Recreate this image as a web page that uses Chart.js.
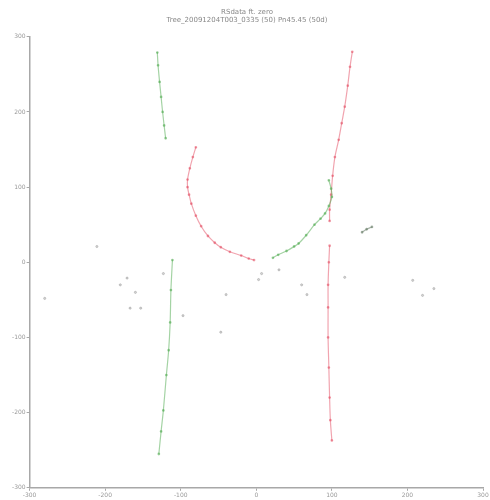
<!DOCTYPE html>
<html>
<head>
<meta charset="utf-8">
<script src="https://cdn.jsdelivr.net/npm/chart.js@4/dist/chart.umd.min.js"></script>
<style>
  html, body { margin: 0; padding: 0; background: #fff; }
  #wrap { width: 490px; height: 500px; }
</style>
</head>
<body>
<div id="wrap"><canvas id="chart"></canvas></div>
<script>
// Axis ticks
const X_TICKS = [-300, -200, -100, 0, 100, 200, 300];
const Y_TICKS = [-300, -200, -100, 0, 100, 200, 300];

// Green branch, upper left
const greenUpperX = [-131, -130, -128, -126, -124, -122, -120];
const greenUpperY = [279, 262, 240, 220, 200, 182, 165];

// Red arc, left side of the bowl
const redArcX = [-80, -84, -88, -91, -91, -89, -86, -80, -73, -64, -55, -47, -35, -20, -10, -3];
const redArcY = [153, 140, 125, 110, 100, 90, 78, 62, 48, 35, 26, 20, 14, 9, 5, 3];

// Green arc, right side of the bowl
const greenArcX = [22, 29, 40, 50, 56, 66, 77, 85, 91, 96, 100, 99, 96];
const greenArcY = [6, 10, 15, 21, 25, 36, 50, 58, 65, 75, 87, 98, 109];

// Red branch, upper right
const redUpperX = [127, 124, 121, 117, 113, 109, 104, 101, 99, 97, 97];
const redUpperY = [280, 260, 235, 207, 185, 163, 140, 115, 90, 70, 55];

// Red branch, lower right
const redLowerX = [97, 96, 95, 95, 95, 96, 97, 98, 100];
const redLowerY = [22, 0, -30, -60, -100, -140, -180, -210, -237];

// Green branch, lower left
const greenLowerX = [-111, -113, -114, -116, -119, -123, -126, -129];
const greenLowerY = [3, -37, -80, -117, -150, -197, -225, -255];

// Short dark stroke on the right
const strokeX = [140, 146, 153];
const strokeY = [40, 44, 47];

// Loose scattered points
const scatterX = [-211, -171, -280, -167, -153, -123, -40, 3, 7, 67, 117, 220, 207, -97, -47, -180, -160, 30, 60, 235];
const scatterY = [21, -21, -48, -61, -61, -15, -43, -23, -15, -43, -20, -44, -24, -71, -93, -30, -40, -10, -30, -35];

const TITLE_LINES = ["RSdata ft. zero", "Tree_20091204T003_0335 (50) Pn45.45 (50d)"];

function toPoints(xs, ys) {
  return xs.map((x, i) => ({ x: x, y: ys[i] }));
}

const RED = "rgba(230, 90, 110, 0.55)";
const GREEN = "rgba(90, 175, 90, 0.55)";
const GRAY = "rgba(130, 130, 130, 0.35)";

function curve(xs, ys, color) {
  return {
    data: toPoints(xs, ys),
    showLine: true,
    borderColor: color,
    backgroundColor: color,
    borderWidth: 1.2,
    pointRadius: 0.8,
    pointHoverRadius: 0.8,
    tension: 0.3,
  };
}

const datasets = [
  curve(greenUpperX, greenUpperY, GREEN),
  curve(redArcX, redArcY, RED),
  curve(greenArcX, greenArcY, GREEN),
  curve(redUpperX, redUpperY, RED),
  curve(redLowerX, redLowerY, RED),
  curve(greenLowerX, greenLowerY, GREEN),
  curve(strokeX, strokeY, "rgba(110, 130, 110, 0.6)"),
  {
    data: toPoints(scatterX, scatterY),
    showLine: false,
    backgroundColor: GRAY,
    borderColor: GRAY,
    pointRadius: 1.1,
  },
];

const axisColor = "#a8a8a8";
const tickFont = { family: "DejaVu Sans", size: 6 };

new Chart(document.getElementById("chart"), {
  type: "scatter",
  data: { datasets: datasets },
  options: {
    responsive: true,
    maintainAspectRatio: false,
    animation: false,
    layout: { padding: { left: 11, right: 7, top: 0, bottom: 0 } },
    plugins: {
      legend: { display: false },
      tooltip: { enabled: false },
      title: {
        display: true,
        text: TITLE_LINES,
        color: "#888",
        font: { family: "DejaVu Sans", size: 7, weight: "normal" },
        padding: { top: 8, bottom: 12 },
      },
    },
    scales: {
      x: {
        type: "linear",
        min: -300,
        max: 300,
        afterBuildTicks: (s) => { s.ticks = X_TICKS.map((v) => ({ value: v })); },
        ticks: { color: "#999", font: tickFont, padding: 1, maxRotation: 0 },
        grid: { drawOnChartArea: false, color: axisColor, tickLength: 3 },
        border: { color: axisColor, width: 1.5 },
      },
      y: {
        type: "linear",
        min: -300,
        max: 300,
        afterBuildTicks: (s) => { s.ticks = Y_TICKS.map((v) => ({ value: v })); },
        ticks: { color: "#999", font: tickFont, padding: 1 },
        grid: { drawOnChartArea: false, color: axisColor, tickLength: 3 },
        border: { color: axisColor, width: 1.5 },
      },
    },
  },
});
</script>
</body>
</html>
